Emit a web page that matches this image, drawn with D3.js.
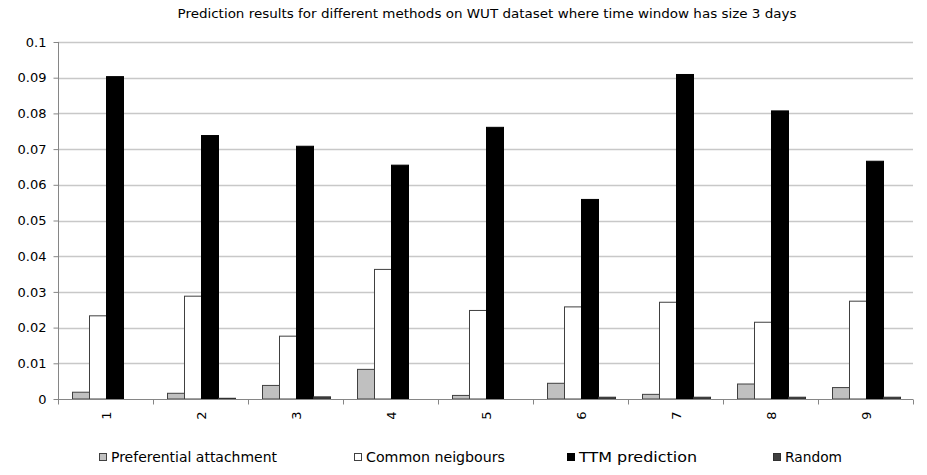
<!DOCTYPE html>
<html><head><meta charset="utf-8">
<script src="https://cdn.jsdelivr.net/npm/d3@7"></script>
<style>body{margin:0;background:#fff}svg{display:block}text{font-family:"DejaVu Sans",Verdana,sans-serif;fill:#000}</style>
</head><body><svg id="c" width="927" height="475"></svg>
<script>
const categories = ["1","2","3","4","5","6","7","8","9"];
const seriesNames = ["Preferential attachment","Common neigbours","TTM prediction","Random"];
const preferential = [0.0019,0.0016,0.0038,0.0083,0.0010,0.0044,0.0013,0.0042,0.0032];
const common = [0.0233,0.0288,0.0176,0.0363,0.0248,0.0258,0.0271,0.0215,0.0274];
const ttm = [0.0903,0.0738,0.0708,0.0655,0.0761,0.0559,0.0909,0.0807,0.0666];
const random = [0,0.0002,0.0006,0,0,0.0005,0.0005,0.0005,0.0005];
const yTicks = [0,0.01,0.02,0.03,0.04,0.05,0.06,0.07,0.08,0.09,0.1];
const title = "Prediction results for different methods on WUT dataset where time window has size 3 days";

const fills = ["#c0c0c0","#ffffff","#000000","#404040"];
const strokes = ["#404040","#404040","#000000","#303030"];
const allSeries = [preferential, common, ttm, random];

const svg = d3.select("#c");
const L = 58, R = 913, T = 42, B = 399;
const x = d3.scaleBand().domain(categories).range([L, R]).paddingInner(0).paddingOuter(0);
const gap = 14;
const xs = d3.scaleBand().domain(d3.range(4)).range([gap, x.bandwidth() - gap + 1]).padding(0);
const y = d3.scaleLinear().domain([0, 0.1]).range([B, T]);

// gridlines
svg.append("g").selectAll("line").data(yTicks.slice(1)).join("line")
  .attr("x1", L).attr("x2", R).attr("y1", d => Math.round(y(d))+0.5).attr("y2", d => Math.round(y(d))+0.5)
  .attr("stroke", "#c8c8c8").attr("stroke-width", 1.5);

// bars
const groups = svg.append("g").selectAll("g").data(categories).join("g")
  .attr("transform", d => `translate(${x(d)},0)`);
groups.selectAll("rect").data((d, i) => allSeries.map((s, k) => ({k, v: s[i]}))).join("rect")
  .attr("x", d => xs(d.k) + 0.5).attr("width", xs.bandwidth())
  .attr("y", d => y(d.v)).attr("height", d => B - y(d.v))
  .attr("fill", d => fills[d.k]).attr("stroke", d => strokes[d.k]).attr("stroke-width", 1)
  .attr("visibility", d => d.v > 0 ? "visible" : "hidden");

// y axis
const yAxis = d3.axisLeft(y).tickValues(yTicks).tickSize(5).tickFormat(d => d === 0 ? "0" : d3.format("")(+d.toFixed(2)));
const gy = svg.append("g").attr("transform", `translate(${L+0.5},0)`).call(yAxis);
gy.select(".domain").attr("stroke", "#868686").attr("d", `M0,${T}V${B}`);
gy.selectAll(".tick line").attr("stroke", "#868686");
gy.selectAll(".tick text").attr("x", -12).attr("font-size", 13).attr("fill", "#000").style("font-family", '"DejaVu Sans",Verdana,sans-serif');

// x axis
const gx = svg.append("g").attr("transform", `translate(0,${B+0.5})`);
gx.append("line").attr("x1", L).attr("x2", R).attr("stroke", "#868686");
gx.selectAll("line.t").data(d3.range(categories.length + 1)).join("line").attr("class","t")
  .attr("x1", i => Math.round(L + i * x.bandwidth()) + 0.5).attr("x2", i => Math.round(L + i * x.bandwidth()) + 0.5)
  .attr("y1", 0).attr("y2", 5).attr("stroke", "#868686");
gx.selectAll("text").data(categories).join("text")
  .attr("transform", d => `translate(${x(d) + x.bandwidth()/2 + 5},12) rotate(-90)`)
  .attr("text-anchor", "end").attr("font-size", 13).text(d => d);

// title
svg.append("text").attr("x", 487).attr("y", 18).attr("text-anchor", "middle")
  .attr("font-size", 13).attr("textLength", 619).attr("lengthAdjust", "spacingAndGlyphs").text(title);

// legend
const legX = [99, 354, 567, 773];
const legW = [166, 139, 118, 57];
const leg = svg.append("g").selectAll("g").data(seriesNames).join("g")
  .attr("transform", (d, i) => `translate(${legX[i]},453)`);
leg.append("rect").attr("x", 0.5).attr("y", 0.5).attr("width", 7).attr("height", 7)
  .attr("fill", (d, i) => fills[i]).attr("stroke", (d, i) => strokes[i]);
leg.append("text").attr("x", 12).attr("y", 9).attr("font-size", 14)
  .attr("textLength", (d, i) => legW[i]).attr("lengthAdjust", "spacingAndGlyphs").text(d => d);
</script></body></html>
